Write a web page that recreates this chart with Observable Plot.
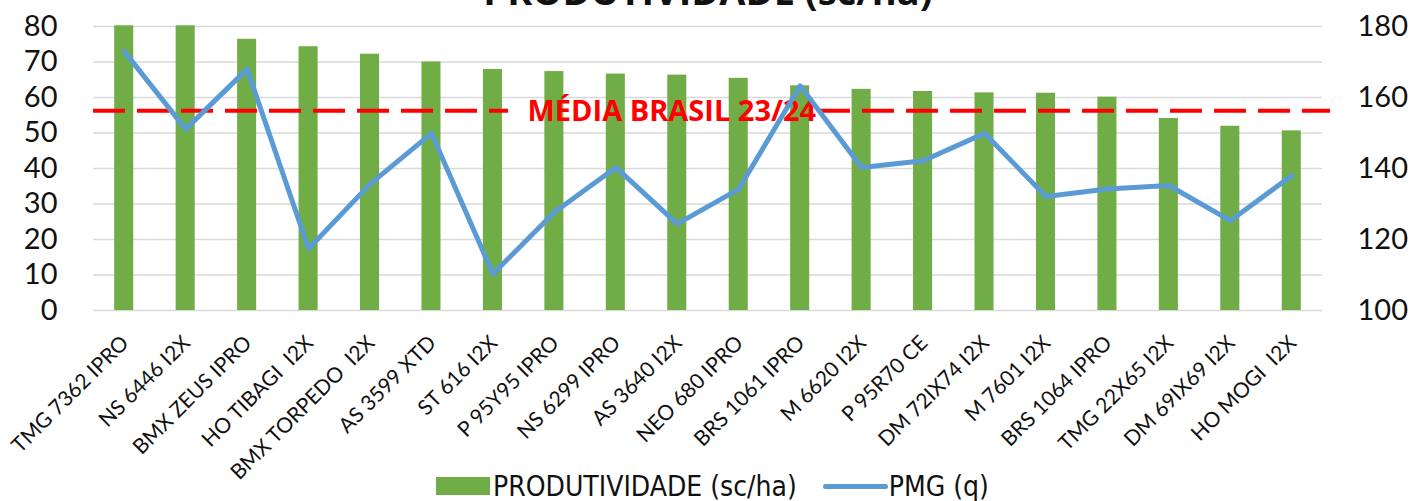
<!DOCTYPE html>
<html>
<head>
<meta charset="utf-8">
<script src="https://cdn.jsdelivr.net/npm/d3@7"></script>
<script src="https://cdn.jsdelivr.net/npm/@observablehq/plot@0.6"></script>
<style>
  html, body { margin: 0; padding: 0; background: #fff; overflow: hidden; }
  #wrap { width: 1413px; height: 501px; position: relative; overflow: hidden; }
  svg text { white-space: pre; }
  #legend { position: absolute; left: 0; top: 472px; width: 1413px; height: 28px; display: flex; align-items: center;
    font-family: "Liberation Sans Narrow", "DejaVu Sans Condensed", "Arial Narrow", sans-serif; font-size: 28px; color: #111; }
  #legend .sw { display: inline-block; width: 54px; height: 18px; background: #70AD47; margin-right: 3px; }
  #legend .ln { display: inline-block; width: 65px; height: 5px; border-radius: 3px; background: #5B9BD5; margin-left: 26px; margin-right: 1px; }
</style>
</head>
<body>
<div id="wrap">
  <div id="chart"></div>
  <div id="legend"><span style="width:436px;display:inline-block"></span><span class="sw"></span><span>PRODUTIVIDADE (sc/ha)</span><span class="ln"></span><span>PMG (q)</span></div>
</div>
<script>
const categories = ["TMG 7362 IPRO","NS 6446 I2X","BMX ZEUS IPRO","HO TIBAGI  I2X","BMX TORPEDO  I2X","AS 3599 XTD","ST 616 I2X","P 95Y95 IPRO","NS 6299 IPRO","AS 3640 I2X","NEO 680 IPRO","BRS 1061 IPRO","M 6620 I2X","P 95R70 CE","DM 72IX74 I2X","M 7601 I2X","BRS 1064 IPRO","TMG 22X65 I2X","DM 69IX69 I2X","HO MOGI  I2X"];
const produtividade = [80.2, 80.2, 76.4, 74.3, 72.2, 70.0, 67.9, 67.3, 66.6, 66.3, 65.4, 63.3, 62.3, 61.7, 61.3, 61.2, 60.1, 54.1, 51.9, 50.6];
const pmg = [173.0, 151.1, 168.0, 117.4, 135.6, 149.9, 110.3, 127.7, 140.3, 124.4, 134.2, 163.3, 140.3, 142.2, 149.9, 132.1, 134.2, 135.2, 125.3, 138.0];
const mediaBrasil = 56.3;
const mediaLabel = "MÉDIA BRASIL 23/24";
const leftTicks = [0, 10, 20, 30, 40, 50, 60, 70, 80];
const rightTicks = [100, 120, 140, 160, 180];
const title = "PRODUTIVIDADE (sc/ha)";

// right axis spans 100–180 while left spans 0–80: same extent, offset by the right axis minimum
const rightMin = rightTicks[0];
const rows = categories.map((c, i) => ({c, prod: produtividade[i], pmg: pmg[i]}));

const tickFont = "Lato, 'Open Sans', sans-serif";

const chart = Plot.plot({
  width: 1413,
  height: 465,
  marginLeft: 93,
  marginRight: 91,
  marginTop: 26,
  marginBottom: 155,
  style: {background: "white", overflow: "visible"},
  x: {domain: categories, paddingInner: 0.69, paddingOuter: 0.345, round: false, axis: null},
  y: {domain: [0, 80], axis: null},
  marks: [
    Plot.gridY(leftTicks, {stroke: "#d9d9d9", strokeOpacity: 1, strokeWidth: 1.5}),
    Plot.barY(rows, {x: "c", y: "prod", fill: "#70AD47"}),
    Plot.ruleY([mediaBrasil], {stroke: "#FF0000", strokeWidth: 4, strokeDasharray: "32,12", insetRight: 814}),
    Plot.ruleY([mediaBrasil], {stroke: "#FF0000", strokeWidth: 4, strokeDasharray: "32,12", insetLeft: 725, insetRight: -8}),
    Plot.text([mediaLabel], {y: () => mediaBrasil, frameAnchor: "left", textAnchor: "start", lineAnchor: "middle", dx: 434, dy: 1,
      fill: "#FF0000", fontWeight: "bold", fontSize: 29, fontFamily: "'Open Sans', sans-serif"}),
    Plot.lineY(rows, {x: "c", y: d => d.pmg - rightMin, stroke: "#5B9BD5", strokeWidth: 5, strokeLinejoin: "round", strokeLinecap: "round"}),
    Plot.axisY(leftTicks, {anchor: "left", tickSize: 0, tickPadding: 36, fontSize: 29, fontFamily: tickFont, fill: "#111", label: null}),
    Plot.axisY(rightTicks.map(v => v - rightMin), {anchor: "right", tickSize: 0, tickPadding: 35, fontSize: 29, fontFamily: tickFont, fill: "#111", label: null, tickFormat: v => String(v + rightMin)}),
    Plot.text(categories, {x: d => d, frameAnchor: "bottom", rotate: -45, textAnchor: "end", lineAnchor: "middle", dx: 1, dy: 29, fontSize: 21, fontFamily: tickFont, fill: "#111"}),
    Plot.text([title], {frameAnchor: "top", lineAnchor: "bottom", dy: -22, fontSize: 38, fontWeight: "bold", fontFamily: "'Open Sans', sans-serif", fill: "#111"})
  ]
});
document.getElementById("chart").appendChild(chart);
</script>
</body>
</html>
